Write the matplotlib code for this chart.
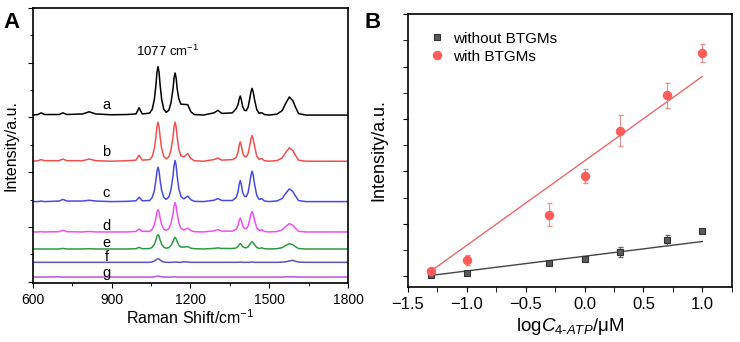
import matplotlib
matplotlib.use("Agg")
import matplotlib.pyplot as plt
from matplotlib.ticker import MultipleLocator

plt.rcParams['font.family'] = ['Liberation Sans', 'DejaVu Sans']
plt.rcParams['mathtext.fontset'] = 'custom'
plt.rcParams['mathtext.rm'] = 'Liberation Sans'
plt.rcParams['mathtext.it'] = 'Liberation Sans:italic'

# ---- panel A: SERS spectra (height above own baseline) ----
shift = [600, 620, 632, 645, 700, 715, 730, 790, 815, 840, 900, 960, 993, 1005, 1017,
         1045, 1055, 1063, 1069, 1073, 1077, 1081, 1085, 1091, 1099, 1108,
         1118, 1126, 1134, 1138, 1142, 1146, 1150, 1156, 1164,
         1175, 1190, 1202, 1215,
         1250, 1290, 1305, 1320,
         1360, 1375, 1382, 1386, 1390, 1394, 1399, 1406, 1413,
         1420, 1426, 1431, 1435, 1439, 1445, 1453, 1462, 1472, 1482, 1500,
         1530, 1550, 1563, 1577, 1590, 1600, 1612, 1640, 1700, 1800]

spec_a = [0, 0.01, 0.04, 0.01, 0.01, 0.04, 0.01, 0.02, 0.06, 0.02, 0.005, 0.01, 0.02, 0.134, 0.02,
          0.035, 0.106, 0.283, 0.548, 0.778, 0.884, 0.778, 0.548, 0.283, 0.106, 0.05,
          0.086, 0.215, 0.476, 0.676, 0.768, 0.676, 0.476, 0.3, 0.2,
          0.195, 0.19, 0.06, 0.01,
          0, 0.04, 0.085, 0.03,
          0.04, 0.12, 0.2, 0.29, 0.348, 0.285, 0.157, 0.087, 0.08,
          0.146, 0.293, 0.429, 0.488, 0.429, 0.268, 0.098, 0.034, 0.043, 0.01, 0,
          0.017, 0.083, 0.215, 0.33, 0.264, 0.149, 0.026, 0, 0, 0]
spec_b = [0, 0.01, 0.03, 0.01, 0.01, 0.04, 0.01, 0.01, 0.04, 0.01, 0, 0.01, 0.02, 0.11, 0.02,
          0.03, 0.086, 0.228, 0.442, 0.627, 0.713, 0.627, 0.442, 0.228, 0.086, 0.043,
          0.078, 0.2, 0.442, 0.627, 0.713, 0.627, 0.442, 0.228, 0.1,
          0.08, 0.14, 0.05, 0.01,
          0, 0.03, 0.06, 0.02,
          0.03, 0.07, 0.177, 0.29, 0.354, 0.29, 0.159, 0.087, 0.078,
          0.141, 0.282, 0.414, 0.47, 0.414, 0.259, 0.094, 0.033, 0.05, 0.01, 0,
          0.012, 0.061, 0.159, 0.244, 0.195, 0.11, 0.02, 0, 0, 0]
spec_c = [0, 0, 0.01, 0, 0.01, 0.04, 0.01, 0.01, 0.025, 0.01, 0, 0.005, 0.015, 0.08, 0.015,
          0.02, 0.075, 0.2, 0.389, 0.553, 0.628, 0.553, 0.389, 0.2, 0.075, 0.041,
          0.081, 0.21, 0.465, 0.66, 0.75, 0.66, 0.465, 0.24, 0.095,
          0.05, 0.10, 0.035, 0.005,
          0, 0.025, 0.055, 0.02,
          0.02, 0.077, 0.192, 0.315, 0.384, 0.315, 0.173, 0.097, 0.09,
          0.167, 0.333, 0.488, 0.555, 0.488, 0.305, 0.111, 0.039, 0.055, 0.011, 0,
          0.012, 0.058, 0.151, 0.232, 0.186, 0.104, 0.019, 0, 0, 0]
spec_d = [0, 0, 0.005, 0, 0.005, 0.03, 0.005, 0, 0.01, 0, 0, 0, 0.01, 0.055, 0.01,
          0.012, 0.049, 0.131, 0.254, 0.361, 0.41, 0.361, 0.254, 0.131, 0.049, 0.028,
          0.058, 0.15, 0.333, 0.473, 0.537, 0.473, 0.333, 0.172, 0.068,
          0.035, 0.067, 0.025, 0.005,
          0, 0.02, 0.043, 0.015,
          0.015, 0.051, 0.128, 0.21, 0.256, 0.21, 0.115, 0.065, 0.06,
          0.112, 0.223, 0.327, 0.372, 0.327, 0.205, 0.074, 0.026, 0.043, 0.009, 0,
          0.008, 0.038, 0.099, 0.152, 0.122, 0.068, 0.012, 0, 0, 0]
spec_e = [0, 0, 0, 0, 0, 0.01, 0, 0, 0.005, 0, 0, 0, 0.005, 0.03, 0.005,
          0.008, 0.031, 0.084, 0.162, 0.231, 0.262, 0.231, 0.162, 0.084, 0.031, 0.014,
          0.024, 0.06, 0.132, 0.187, 0.213, 0.187, 0.132, 0.07, 0.035,
          0.035, 0.043, 0.015, 0.005,
          0, 0.01, 0.02, 0.01,
          0.008, 0.02, 0.049, 0.08, 0.098, 0.08, 0.044, 0.025, 0.022,
          0.04, 0.08, 0.118, 0.134, 0.118, 0.074, 0.027, 0.01, 0.02, 0.005, 0,
          0.005, 0.025, 0.064, 0.098, 0.078, 0.044, 0.008, 0, 0, 0]
spec_f = [0, 0, 0, 0, 0, 0, 0, 0, 0, 0, 0, 0, 0, 0, 0,
          0, 0.008, 0.021, 0.042, 0.059, 0.067, 0.059, 0.042, 0.021, 0.008, 0,
          0, 0, 0.003, 0.004, 0.005, 0.004, 0.003, 0, 0,
          0.01, 0.005, 0, 0,
          0, 0, 0, 0,
          0, 0, 0, 0.004, 0.005, 0.004, 0, 0, 0,
          0, 0, 0.004, 0.005, 0.004, 0, 0, 0, 0, 0, 0,
          0, 0.003, 0.01, 0.025, 0.037, 0.02, 0.005, 0, 0, 0]
spec_g = [0, 0, 0, 0, 0.004, 0, 0, 0, 0, 0, 0, 0, 0, 0, 0,
          0, 0, 0.005, 0.011, 0.016, 0.018, 0.016, 0.011, 0.005, 0, 0,
          0, 0, 0, 0.004, 0.005, 0.004, 0, 0, 0,
          0, 0, 0, 0,
          0, 0, 0, 0,
          0, 0, 0, 0, 0, 0, 0, 0, 0,
          0, 0, 0, 0, 0, 0, 0, 0, 0, 0, 0,
          0, 0, 0.003, 0.005, 0.004, 0.002, 0, 0, 0, 0]

spectra = [spec_a, spec_b, spec_c, spec_d, spec_e, spec_f, spec_g]
offsets = [3.043, 2.20, 1.463, 0.909, 0.598, 0.354, 0.085]
names = ['a', 'b', 'c', 'd', 'e', 'f', 'g']
label_y = [3.22, 2.37, 1.62, 1.01, 0.70, 0.46, 0.16]
colors = ['#000000', '#f05050', '#4a4ae0', '#f050f0', '#2e9a46', '#5858b0', '#c050d8']

# ---- panel B: calibration ----
logc = [-1.3, -1.0, -0.3, 0.0, 0.3, 0.7, 1.0]
with_btgm = [0.108, 0.317, 1.18, 1.91, 2.78, 3.45, 4.26]
with_err = [0.03, 0.10, 0.21, 0.13, 0.29, 0.24, 0.17]
without_btgm = [0.02, 0.057, 0.26, 0.336, 0.463, 0.69, 0.87]
without_err = [0.02, 0.02, 0.03, 0.03, 0.10, 0.10, 0.04]
fit_with = [1.61, 2.201]      # slope, intercept
fit_without = [0.281, 0.385]
fit_x = [-1.3, 1.0]

fig = plt.figure(figsize=(7.4, 3.42), dpi=100)
axA = fig.add_axes([0.0442, 0.173, 0.426, 0.804])
axB = fig.add_axes([0.551, 0.161, 0.438, 0.798])

for s, off, col, nm, ly in zip(spectra, offsets, colors, names, label_y):
    axA.plot(shift, [v + off for v in s], color=col, lw=1.1)
    axA.text(881, ly, nm, ha='center', va='center', fontsize=10.5)
axA.text(1114, 4.21, '1077 cm$^{-1}$', ha='center', va='center', fontsize=9.5)

axA.set_xlim(600, 1800)
axA.set_ylim(-0.02, 5.0)
axA.xaxis.set_major_locator(MultipleLocator(300))
axA.xaxis.set_minor_locator(MultipleLocator(150))
axA.yaxis.set_major_locator(MultipleLocator(1))
axA.yaxis.set_minor_locator(MultipleLocator(0.5))
axA.set_yticklabels([])
axA.tick_params(which='both', direction='out', top=False, right=False, labelsize=10)
axA.tick_params(which='major', length=3.5)
axA.tick_params(which='minor', length=2)
axA.set_xlabel('Raman Shift/cm$^{-1}$', fontsize=11.5, labelpad=1)
axA.set_ylabel('Intensity/a.u.', fontsize=11.5, labelpad=3)

xs = [fit_x[0], fit_x[1]]
axB.plot(xs, [fit_without[0] * x + fit_without[1] for x in xs], color='#444444', lw=1.0)
axB.plot(xs, [fit_with[0] * x + fit_with[1] for x in xs], color='#e86a6a', lw=1.0)
axB.errorbar(logc, without_btgm, yerr=without_err, fmt='none', ecolor='#666666',
             elinewidth=0.8, capsize=1.8)
axB.errorbar(logc, with_btgm, yerr=with_err, fmt='none', ecolor='#e89090',
             elinewidth=0.8, capsize=1.8)
axB.plot(logc, without_btgm, 's', ms=4.6, mfc='#5a5a5a', mec='#333333', mew=0.8,
         label='without BTGMs')
axB.plot(logc, with_btgm, 'o', ms=5.8, mfc='#ff5c5c', mec='#ff5c5c', label='with BTGMs')
axB.set_xlim(-1.5, 1.25)
axB.set_ylim(-0.2, 5.0)
axB.xaxis.set_major_locator(MultipleLocator(0.5))
axB.xaxis.set_minor_locator(MultipleLocator(0.25))
axB.yaxis.set_major_locator(MultipleLocator(1))
axB.yaxis.set_minor_locator(MultipleLocator(0.5))
axB.set_yticklabels([])
axB.tick_params(which='both', direction='out', top=False, right=False, labelsize=12)
axB.tick_params(which='both', length=3.5)
axB.set_xlabel(r'log$\mathit{C}_{\mathit{4}\text{-}\mathit{ATP}}$/μM', fontsize=13.5, labelpad=3)
axB.set_ylabel('Intensity/a.u.', fontsize=13, labelpad=8)
axB.legend(loc='upper left', frameon=False, fontsize=11, handlelength=1,
           handletextpad=0.5, labelspacing=0.25, borderaxespad=0.4,
           bbox_to_anchor=(0.03, 0.98))

for ax in (axA, axB):
    for sp in ax.spines.values():
        sp.set_linewidth(1.2)

fig.text(0.005, 0.965, 'A', fontsize=16, fontweight='bold', va='top')
fig.text(0.492, 0.965, 'B', fontsize=16, fontweight='bold', va='top')

fig.savefig('out.png', dpi=100)
